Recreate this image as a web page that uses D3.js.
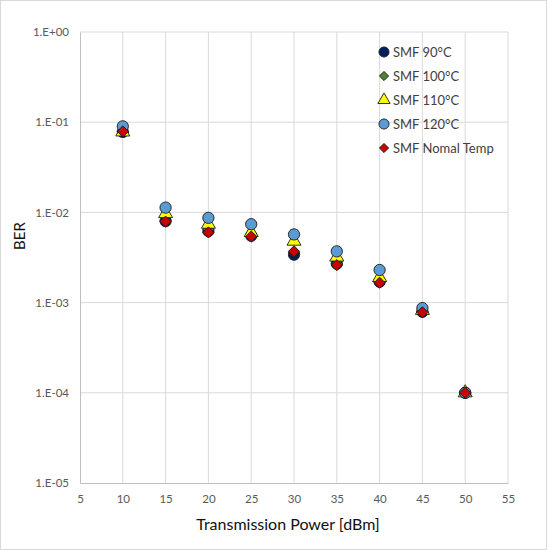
<!DOCTYPE html>
<html>
<head>
<meta charset="utf-8">
<script src="https://cdn.jsdelivr.net/npm/d3@7"></script>
<style>
  body { margin: 0; background: #fff; }
  text { font-family: Lato, "Liberation Sans", sans-serif; }
</style>
</head>
<body>
<div id="chart"></div>
<script>
// DATA
var power = [10, 15, 20, 25, 30, 35, 40, 45, 50];
var smf90 = [0.078, 0.0080, 0.0062, 0.0055, 0.0034, 0.0027, 0.0017, 0.00079, 0.0001];
var smf100 = [0.078, 0.0081, 0.0065, 0.0056, 0.0036, 0.0027, 0.0017, 0.00080, 0.0001];
var smf110 = [0.078, 0.0097, 0.0074, 0.0060, 0.0048, 0.0032, 0.0019, 0.00082, 0.0001];
var smf120 = [0.090, 0.0113, 0.0087, 0.0074, 0.0057, 0.0037, 0.0023, 0.00087, 0.0001];
var smfNormal = [0.079, 0.0079, 0.0060, 0.0054, 0.0037, 0.0026, 0.00166, 0.00078, 0.0001];
var xTicks = [5, 10, 15, 20, 25, 30, 35, 40, 45, 50, 55];
var yTicks = [1, 1e-1, 1e-2, 1e-3, 1e-4, 1e-5];
var yTickLabels = ["1.E+00", "1.E-01", "1.E-02", "1.E-03", "1.E-04", "1.E-05"];

var series = [
  {name: "SMF 90\u00B0C", values: smf90, shape: "circle", fill: "#002060"},
  {name: "SMF 100\u00B0C", values: smf100, shape: "diamond", fill: "#548235"},
  {name: "SMF 110\u00B0C", values: smf110, shape: "triangle", fill: "#FFFF00"},
  {name: "SMF 120\u00B0C", values: smf120, shape: "circle", fill: "#5B9BD5"},
  {name: "SMF Nomal Temp", values: smfNormal, shape: "diamond", fill: "#CC0000"}
];

// SET UP
var W = 547, H = 550;
var plot = {left: 80, right: 508, top: 32, bottom: 483};

var svg = d3.select("#chart").append("svg")
    .attr("width", W)
    .attr("height", H);

// outer chart border
svg.append("rect")
    .attr("x", 0.5).attr("y", 0.5)
    .attr("width", W - 1).attr("height", H - 1)
    .attr("fill", "#fff")
    .attr("stroke", "#D9D9D9");

var xScale = d3.scaleLinear().domain([5, 55]).range([plot.left, plot.right]);
var yScale = d3.scaleLog().domain([1e-5, 1]).range([plot.bottom, plot.top]);

// gridlines
svg.append("g").selectAll("line")
    .data(xTicks.slice(1))
    .join("line")
    .attr("x1", d => xScale(d)).attr("x2", d => xScale(d))
    .attr("y1", plot.top).attr("y2", plot.bottom)
    .attr("stroke", "#D9D9D9");

svg.append("g").selectAll("line")
    .data(yTicks.slice(0, -1))
    .join("line")
    .attr("x1", plot.left).attr("x2", plot.right)
    .attr("y1", d => yScale(d)).attr("y2", d => yScale(d))
    .attr("stroke", "#D9D9D9");

// axes
var xAxis = svg.append("g")
    .attr("transform", "translate(0," + plot.bottom + ")")
    .call(d3.axisBottom(xScale).tickValues(xTicks).tickSize(0).tickPadding(12));

var yAxis = svg.append("g")
    .attr("transform", "translate(" + plot.left + ",0)")
    .call(d3.axisLeft(yScale).tickValues(yTicks).tickSize(0).tickPadding(11)
        .tickFormat((d, i) => yTickLabels[i]));

[xAxis, yAxis].forEach(function(a) {
    a.select(".domain").attr("stroke", "#BFBFBF");
    a.selectAll("text").attr("fill", "#595959").attr("font-size", "11.5px")
        .attr("font-family", "Lato, 'Liberation Sans', sans-serif");
});

// axis titles
svg.append("text")
    .attr("x", 288).attr("y", 530)
    .attr("text-anchor", "middle")
    .attr("font-size", "16px")
    .attr("fill", "#111")
    .text("Transmission Power [dBm]");

svg.append("text")
    .attr("transform", "translate(25,236) rotate(-90)")
    .attr("text-anchor", "middle")
    .attr("font-size", "15px")
    .attr("fill", "#111")
    .text("BER");

// markers: Excel-style diamond is a square turned 45 degrees
function symbolFor(shape, big) {
    if (shape === "circle") return d3.symbol().type(d3.symbolCircle).size(big ? 100 : 80)();
    if (shape === "diamond") return d3.symbol().type(d3.symbolSquare).size(big ? 62 : 42)();
    return d3.symbol().type(d3.symbolTriangle).size(big ? 85 : 65)();
}
function rot(shape) { return shape === "diamond" ? " rotate(45)" : ""; }

series.forEach(function(s) {
    svg.append("g").selectAll("path")
        .data(s.values)
        .join("path")
        .attr("transform", (d, i) => "translate(" + xScale(power[i]) + "," + yScale(d) + ")" + rot(s.shape))
        .attr("d", symbolFor(s.shape, true))
        .attr("fill", s.fill)
        .attr("stroke", "#1a1a1a")
        .attr("stroke-width", 0.9);
});

// legend
var legend = svg.append("g");
series.forEach(function(s, i) {
    var y = 52 + i * 24;
    legend.append("path")
        .attr("transform", "translate(384," + y + ")" + rot(s.shape))
        .attr("d", symbolFor(s.shape, false))
        .attr("fill", s.fill)
        .attr("stroke", "#1a1a1a")
        .attr("stroke-width", 0.9);
    legend.append("text")
        .attr("x", 393).attr("y", y)
        .attr("dy", "0.35em")
        .attr("font-size", "13px")
        .attr("fill", "#404040")
        .text(s.name);
});
</script>
</body>
</html>
